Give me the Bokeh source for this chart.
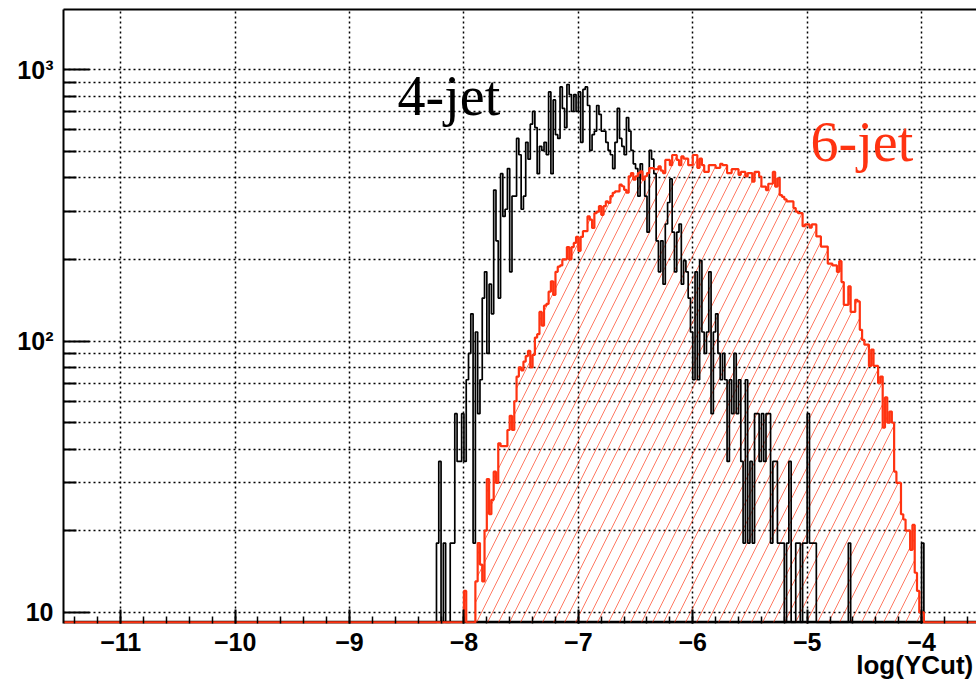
import numpy as np
from bokeh.plotting import figure
from bokeh.models import Range1d, FixedTicker, SingleIntervalTicker, LinearAxis, Label, Span
from bokeh.embed import file_html
from bokeh.resources import INLINE

# ---------------- data ----------------
BIN_WIDTH = 0.02

# 4-jet histogram: counts per bin, first bin starts at log(YCut) = -8.24
jet4_start = -8.24
jet4_counts = [
    18, 36, 0, 18, 0, 0, 18, 18, 54, 36,
    36, 54, 36, 72, 90, 126, 18, 108, 54, 72,
    144, 180, 90, 162, 126, 360, 234, 144, 414, 288,
    306, 432, 180, 342, 342, 558, 486, 306, 342, 540,
    468, 630, 702, 612, 414, 522, 504, 540, 486, 828,
    414, 774, 576, 558, 864, 720, 612, 882, 810, 702,
    810, 702, 828, 540, 846, 864, 738, 504, 576, 594,
    738, 684, 594, 594, 540, 504, 486, 432, 540, 720,
    558, 522, 486, 666, 594, 504, 450, 432, 342, 450,
    396, 342, 252, 504, 468, 414, 234, 180, 234, 162,
    270, 324, 396, 252, 180, 252, 270, 162, 198, 180,
    144, 108, 72, 180, 72, 198, 108, 90, 108, 180,
    54, 108, 126, 90, 72, 90, 72, 36, 72, 54,
    90, 54, 72, 36, 18, 72, 18, 36, 18, 54,
    54, 36, 54, 36, 54, 54, 18, 36, 36, 18,
    18, 18, 0, 18, 36, 0, 0, 18, 18, 0,
    18, 18, 54, 18, 18, 18, 0, 0, 0, 0,
    0, 0, 0, 0, 0, 0, 0, 0, 0, 0,
    18, 0, 0, 0, 0, 0, 0, 0, 0, 0,
    0, 0, 0, 0, 0, 0, 0, 0, 0, 0,
    0, 0, 0, 0, 0, 0, 0, 0, 0, 0,
    0, 0, 18,
]

# 6-jet histogram: counts per bin, first bin starts at log(YCut) = -8.00
jet6_start = -8.00
jet6_counts = [
    12, 0, 0, 0, 0,
    13, 18, 15, 13, 20, 31, 23, 26, 33, 30,
    42, 41, 41, 41, 47, 53, 47, 60, 74, 80,
    78, 84, 88, 92, 80, 89, 103, 106, 128, 114,
    135, 137, 152, 166, 148, 180, 188, 190, 200, 200,
    222, 200, 222, 230, 242, 215, 242, 254, 254, 288,
    280, 261, 296, 300, 314, 292, 314, 327, 323, 342,
    352, 356, 356, 377, 372, 361, 352, 405, 416, 393,
    405, 416, 422, 393, 405, 416, 434, 434, 430, 430,
    440, 425, 416, 465, 465, 445, 485, 485, 465, 445,
    479, 470, 470, 445, 445, 485, 485, 435, 470, 445,
    420, 420, 445, 445, 445, 435, 435, 450, 445, 445,
    416, 416, 430, 430, 430, 410, 420, 420, 404, 416,
    416, 387, 420, 420, 404, 371, 371, 360, 380, 380,
    420, 371, 398, 345, 340, 333, 327, 327, 327, 309,
    300, 296, 296, 265, 269, 269, 262, 269, 269, 243,
    243, 223, 223, 223, 193, 193, 190, 190, 180, 197,
    165, 136, 136, 159, 128, 128, 142, 140, 110, 101,
    97, 97, 81, 93, 81, 81, 70, 74, 48, 62,
    50, 55, 50, 33, 30, 30, 23, 22, 20, 20,
    17, 21, 14, 12, 10, 10,
]

x_tick_values = [-11, -10, -9, -8, -7, -6, -5, -4]
y_major_ticks = [10, 100, 1000]
y_tick_labels = {10: "10", 100: "10\u00b2", 1000: "10\u00b3"}
series_labels = ["4-jet", "6-jet"]
x_title = "log(YCut)"

# ---------------- styling ----------------
RED = "#ff3311"
X0, X1 = -11.5, -3.52
Y0, Y1 = 9.1, 1667.0
BASE = Y0 * 10 ** (1.2 / 271.7)   # zero level drawn just inside the frame bottom
TITLE_POS = -4.06   # horizontal centre of the axis title (layout)


def step_arrays(start, counts, floor):
    counts = np.asarray(counts, dtype=float)
    n = len(counts)
    edges = start + BIN_WIDTH * np.arange(n + 1)
    vals = np.where(counts > 0, counts, floor)
    xs = np.concatenate([[X0], np.repeat(edges, 2), [X1]])
    ys = np.concatenate([[floor, floor], np.repeat(vals, 2), [floor, floor]])
    return xs, ys


p = figure(width=976, height=682,
           x_range=Range1d(X0, X1), y_range=Range1d(Y0, Y1),
           y_axis_type="log", output_backend="svg", toolbar_location=None,
           min_border_left=63, min_border_right=0, min_border_top=9,
           min_border_bottom=58)
p.outline_line_color = None
p.background_fill_color = "white"
p.border_fill_color = "white"

# grids: dotted
for g in (p.xgrid, p.ygrid):
    g.grid_line_color = "black"
    g.grid_line_dash = "2 3"
    g.grid_line_width = 1.5
p.ygrid.minor_grid_line_color = "black"
p.ygrid.minor_grid_line_dash = "2 3"
p.ygrid.minor_grid_line_width = 1.5

# x axis (its line is replaced by a base line drawn under the histograms)
xa = p.xaxis[0]
xa.ticker = SingleIntervalTicker(interval=1, num_minor_ticks=5)
xa.axis_line_color = None
xa.major_tick_in = 14
xa.major_tick_out = 0
xa.minor_tick_in = 7
xa.minor_tick_out = 0
xa.major_tick_line_width = 2
xa.minor_tick_line_width = 1.5
xa.major_label_text_font = "Liberation Sans"
xa.major_label_text_font_style = "bold"
xa.major_label_text_font_size = "25px"
xa.major_label_standoff = 9
xa.major_label_text_color = "black"

p.add_layout(Span(location=BASE, dimension="width", line_color="black",
                  line_width=3, level="underlay"))

# axis title as a second, tick-less axis stacked below
title_axis = LinearAxis(ticker=FixedTicker(ticks=[TITLE_POS]),
                        major_label_overrides={TITLE_POS: x_title},
                        axis_line_color=None, major_tick_line_color=None,
                        minor_tick_line_color=None,
                        major_label_text_font="Liberation Sans",
                        major_label_text_font_style="bold",
                        major_label_text_font_size="26px",
                        major_label_text_color="black",
                        major_label_standoff=-10)
p.add_layout(title_axis, "below")

# y axis
ya = p.yaxis[0]
y_minor = [m * d for d in (10, 100) for m in range(2, 10)]
ya.ticker = FixedTicker(ticks=y_major_ticks, minor_ticks=y_minor)
ya.major_label_overrides = {float(k): v for k, v in y_tick_labels.items()}
ya.axis_line_width = 2
ya.major_tick_in = 26
ya.major_tick_out = 0
ya.minor_tick_in = 13
ya.minor_tick_out = 0
ya.major_tick_line_width = 2
ya.minor_tick_line_width = 2
ya.major_label_text_font = "Liberation Sans"
ya.major_label_text_font_style = "bold"
ya.major_label_text_font_size = "25px"
ya.major_label_standoff = 10
ya.major_label_text_color = "black"

# top frame edge
top_axis = LinearAxis(ticker=FixedTicker(ticks=[]), axis_line_width=2,
                      major_tick_line_color=None, minor_tick_line_color=None,
                      major_label_text_font_size="0px", major_label_standoff=0)
p.add_layout(top_axis, "above")

# histograms
xs6, ys6 = step_arrays(jet6_start, jet6_counts, BASE)
xs4, ys4 = step_arrays(jet4_start, jet4_counts, BASE)

p.varea(x=xs6, y1=np.full(len(xs6), BASE), y2=ys6, fill_alpha=0,
        hatch_pattern="/", hatch_color=RED, hatch_alpha=0.65,
        hatch_scale=22, hatch_weight=1)
p.line(xs4, ys4, line_color="black", line_width=1.7)
p.line(xs6, ys6, line_color=RED, line_width=2.2)

# texts
p.add_layout(Label(x=-8.58, y=800, text=series_labels[0], text_font="Liberation Serif",
                   text_font_size="56px", text_color="black", text_baseline="alphabetic"))
p.add_layout(Label(x=-4.97, y=540, text=series_labels[1], text_font="Liberation Serif",
                   text_font_size="56px", text_color=RED, text_baseline="alphabetic"))

open("out.html", "w").write(file_html(p, INLINE))
